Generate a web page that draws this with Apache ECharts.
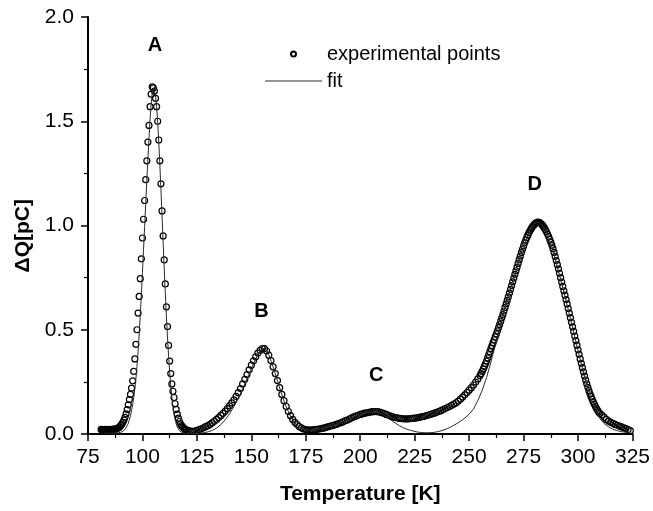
<!DOCTYPE html>
<html>
<head>
<meta charset="utf-8">
<script src="https://cdn.jsdelivr.net/npm/echarts@6/dist/echarts.min.js"></script>
<style>html,body{margin:0;padding:0;background:#fff}#c{width:653px;height:511px}</style>
</head>
<body>
<div id="c"></div>
<script>
// Experimental points: temperature [K]
var expT = [81,81.5,82,82.5,83,83.5,84,84.5,85,85.5,86,86.5,87,87.5,
88,88.5,89,89.5,90,90.5,91,91.5,92,92.5,93,93.5,94,94.5,95,95.5,96,96.5,97,97.5,98,98.5,99,99.5,100,100.5,101,101.5,102,102.5,103,103.5,104,104.5,105,105.5,106,106.5,107,107.5,108,108.5,109,109.5,110,110.5,111,111.5,112,112.5,113,113.5,114,114.5,115,115.5,116,116.5,117,117.5,118,118.5,119,119.5,
120,121,122,123,124,125,126,127,128,129,130,131,132,133,134,135,136,137,138,139,140,141,142,143,144,145,146,147,148,149,150,151,152,153,154,155,156,157,158,159,160,161,162,163,164,165,166,167,168,169,170,171,172,173,174,175,176,177,178,179,180,181,182,183,184,185,186,187,188,189,190,191,192,193,194,195,196,197,198,199,200,201,202,203,204,205,206,207,208,209,210,211,212,213,214,215,216,217,218,219,220,221,222,223,224,225,226,227,228,229,230,231,232,233,234,235,236,237,238,239,240,241,242,243,244,245,246,247,248,249,250,251,252,253,254,255,
255.5,256,256.5,257,257.5,258,258.5,259,259.5,260,260.5,261,261.5,262,262.5,263,263.5,264,264.5,265,265.5,266,266.5,267,267.5,268,268.5,269,269.5,270,270.5,271,271.5,272,272.5,273,273.5,274,274.5,275,275.5,276,276.5,277,277.5,278,278.5,279,279.5,280,280.5,281,281.5,282,282.5,283,283.5,284,284.5,285,285.5,286,286.5,287,287.5,288,288.5,289,289.5,290,290.5,291,291.5,292,292.5,293,293.5,294,294.5,295,295.5,296,296.5,297,297.5,298,298.5,299,299.5,300,300.5,301,301.5,302,302.5,303,303.5,304,304.5,305,305.5,306,306.5,307,307.5,308,308.5,309,309.5,310,
311,312,313,314,315,316,317,318,319,320,321,322,323,324];
// Experimental points: ΔQ [pC]
var expQ = [0.022,0.02,0.021,0.02,0.022,0.02,0.021,0.02,0.022,0.021,0.022,0.022,0.023,0.024,
0.025,0.027,0.03,0.034,0.04,0.047,0.056,0.067,0.08,0.097,0.117,0.14,0.165,0.19,0.22,0.255,0.30,0.36,0.43,0.50,0.58,0.66,0.745,0.84,0.94,1.03,1.12,1.22,1.31,1.40,1.48,1.57,1.63,1.665,1.66,1.645,1.61,1.57,1.50,1.41,1.31,1.20,1.07,0.95,0.835,0.72,0.61,0.515,0.425,0.35,0.29,0.24,0.205,0.175,0.145,0.118,0.095,0.076,0.06,0.048,0.04,0.033,0.028,0.024,
0.02,0.017,0.014,0.013,0.014,0.017,0.021,0.025,0.03,0.035,0.04,0.046,0.053,0.061,0.07,0.079,0.089,0.099,0.11,0.122,0.135,0.149,0.164,0.18,0.198,0.218,0.24,0.262,0.285,0.308,0.33,0.351,0.37,0.388,0.401,0.41,0.409,0.398,0.378,0.352,0.322,0.29,0.256,0.222,0.19,0.16,0.132,0.108,0.088,0.07,0.056,0.045,0.036,0.029,0.024,0.021,0.02,0.019,0.02,0.021,0.022,0.024,0.026,0.028,0.031,0.034,0.037,0.04,0.043,0.046,0.05,0.054,0.058,0.063,0.067,0.072,0.077,0.082,0.086,0.09,0.094,0.097,0.1,0.102,0.104,0.106,0.107,0.108,0.107,0.105,0.102,0.098,0.094,0.09,0.086,0.082,0.079,0.077,0.075,0.074,0.073,0.073,0.073,0.074,0.075,0.076,0.078,0.08,0.082,0.084,0.087,0.09,0.093,0.097,0.1,0.104,0.108,0.112,0.117,0.122,0.127,0.132,0.138,0.144,0.15,0.158,0.167,0.177,0.188,0.199,0.21,0.222,0.235,0.249,0.264,0.28,
0.29,0.30,0.312,0.324,0.337,0.35,0.365,0.38,0.395,0.41,0.424,0.438,0.452,0.466,0.48,0.495,0.51,0.525,0.541,0.557,0.573,0.59,0.607,0.624,0.641,0.658,0.676,0.694,0.712,0.73,0.748,0.766,0.783,0.80,0.818,0.836,0.853,0.87,0.886,0.902,0.917,0.93,0.943,0.955,0.966,0.976,0.985,0.993,1.0,1.006,1.011,1.014,1.016,1.015,1.013,1.009,1.004,0.997,0.989,0.98,0.97,0.959,0.947,0.934,0.92,0.905,0.889,0.871,0.852,0.832,0.812,0.792,0.771,0.75,0.729,0.708,0.687,0.666,0.645,0.624,0.602,0.58,0.558,0.536,0.514,0.492,0.47,0.448,0.426,0.404,0.382,0.36,0.339,0.318,0.298,0.278,0.259,0.241,0.224,0.208,0.193,0.179,0.166,0.154,0.143,0.132,0.122,0.113,0.105,0.098,0.091,
0.08,0.07,0.062,0.056,0.051,0.046,0.042,0.038,0.034,0.03,0.026,0.021,0.016,0.012];
// Fit curve
var fitT = [82,84,86,88,89,90,91,92,93,93.5,94,94.5,95,95.5,96,96.5,97,97.5,98,98.5,99,99.5,100,100.5,101,101.5,102,102.5,103,103.5,104,104.5,105,105.5,106,106.5,107,107.5,108,108.5,109,109.5,110,110.5,111,111.5,112,112.5,113,113.5,114,114.5,115,115.5,116,117,118,119,120,122,124,126,128,130,132,134,136,138,140,142,144,146,148,150,152,154,155,156,157,158,160,162,164,166,168,170,172,174,176,178,180,182,184,186,188,190,192,194,196,198,200,202,204,206,207,208,210,212,214,216,218,220,222,224,226,228,230,232,234,236,238,240,242,244,246,248,250,252,254,256,258,260,262,264,266,268,270,272,274,276,278,280,281,282,284,286,288,290,292,294,296,298,300,302,304,306,308,310,312,314,316,318,320,322,324];
var fitQ = [0.004,0.004,0.004,0.005,0.006,0.008,0.013,0.022,0.04,0.052,0.068,0.088,0.112,0.14,0.175,0.215,0.265,0.325,0.395,0.48,0.57,0.67,0.775,0.885,0.995,1.105,1.215,1.32,1.42,1.51,1.585,1.635,1.66,1.655,1.625,1.57,1.495,1.40,1.29,1.17,1.045,0.92,0.795,0.675,0.565,0.465,0.375,0.297,0.23,0.175,0.13,0.095,0.068,0.048,0.033,0.016,0.008,0.004,0.002,0.001,0.002,0.003,0.006,0.01,0.017,0.028,0.045,0.068,0.097,0.132,0.172,0.217,0.265,0.315,0.36,0.397,0.41,0.41,0.4,0.38,0.322,0.255,0.188,0.13,0.085,0.054,0.034,0.024,0.02,0.02,0.022,0.026,0.031,0.037,0.043,0.05,0.058,0.067,0.077,0.086,0.094,0.1,0.104,0.106,0.106,0.104,0.096,0.083,0.068,0.053,0.04,0.029,0.021,0.015,0.01,0.007,0.006,0.006,0.008,0.012,0.018,0.026,0.036,0.048,0.061,0.076,0.095,0.12,0.16,0.21,0.27,0.345,0.425,0.51,0.59,0.66,0.73,0.80,0.87,0.93,0.976,1.006,1.014,1.015,0.997,0.957,0.897,0.82,0.742,0.66,0.575,0.488,0.4,0.316,0.238,0.17,0.115,0.075,0.05,0.034,0.023,0.016,0.011,0.008,0.006];
// Peak annotations
var peakNames = ['A','B','C','D'];
var peakT = [105.7,154.7,207.3,280.1];
var peakQ = [1.865,0.587,0.279,1.197];
// Axis ticks
var xMin = 75, xMax = 325, xStep = 25;
var yMin = 0, yMax = 2.0, yStep = 0.5;

var FONT = '"Liberation Sans", Arial, Helvetica, sans-serif';
var expData = expT.map(function(t,i){return [t, expQ[i]];});
var fitData = fitT.map(function(t,i){return [t, fitQ[i]];});
var peakData = peakNames.map(function(n,i){return {name:n, value:[peakT[i], peakQ[i]]};});

var chart = echarts.init(document.getElementById('c'), null, {renderer:'canvas'});
chart.setOption({
  backgroundColor:'#ffffff',
  animation:false,
  grid:{left:88, right:19, top:17, bottom:77, containLabel:false},
  legend:[{
    orient:'vertical', left:285, top:39, itemWidth:57, itemHeight:5,
    data:['experimental points'],
    textStyle:{fontFamily:FONT, fontSize:20, color:'#000'},
    selectedMode:false
  },{
    orient:'vertical', left:260, top:66, itemWidth:57, itemHeight:1,
    data:[{name:'fit', icon:'rect'}],
    itemStyle:{color:'#2a2a2a'},
    textStyle:{fontFamily:FONT, fontSize:20, color:'#000'},
    selectedMode:false
  }],
  xAxis:{
    type:'value', min:xMin, max:xMax, interval:xStep,
    name:'Temperature [K]', nameLocation:'middle', nameGap:50,
    nameTextStyle:{fontFamily:FONT, fontSize:21, fontWeight:'bold', color:'#000'},
    axisLine:{onZero:false, lineStyle:{color:'#000', width:2}},
    axisTick:{show:true, inside:false, length:7, lineStyle:{color:'#000', width:1.5}},
    minorTick:{show:true, splitNumber:2, length:4, lineStyle:{color:'#000', width:1.2}},
    splitLine:{show:false},
    axisLabel:{fontFamily:FONT, fontSize:21, color:'#000', margin:13}
  },
  yAxis:{
    type:'value', min:yMin, max:yMax, interval:yStep,
    axisLine:{show:true, onZero:false, lineStyle:{color:'#000', width:2}},
    axisTick:{show:true, inside:false, length:7, lineStyle:{color:'#000', width:1.5}},
    minorTick:{show:true, splitNumber:2, length:4, lineStyle:{color:'#000', width:1.2}},
    splitLine:{show:false},
    axisLabel:{fontFamily:FONT, fontSize:21, color:'#000', margin:14,
      formatter:function(v){return v.toFixed(1);}}
  },
  graphic:[{
    type:'text', left:13, top:199, rotation:Math.PI/2,
    style:{text:'ΔQ[pC]', fontFamily:FONT, fontSize:21, fontWeight:'bold', fill:'#000'}
  }],
  series:[
    {
      name:'experimental points', type:'scatter', data:expData,
      symbol:'circle', symbolSize:6,
      itemStyle:{color:'rgba(255,255,255,0)', borderColor:'#000', borderWidth:1.2, opacity:1},
      z:2
    },
    {
      name:'fit', type:'line', data:fitData, symbol:'none', smooth:false,
      lineStyle:{color:'#2a2a2a', width:1},
      itemStyle:{color:'#2a2a2a'},
      z:3
    },
    {
      name:'peaks', type:'scatter', data:peakData, symbolSize:0,
      itemStyle:{opacity:1},
      label:{show:true, position:'inside', formatter:'{b}', opacity:1,
        fontFamily:FONT, fontSize:20, fontWeight:'bold', color:'#000'},
      emphasis:{disabled:true},
      z:4
    }
  ]
});
</script>
</body>
</html>
